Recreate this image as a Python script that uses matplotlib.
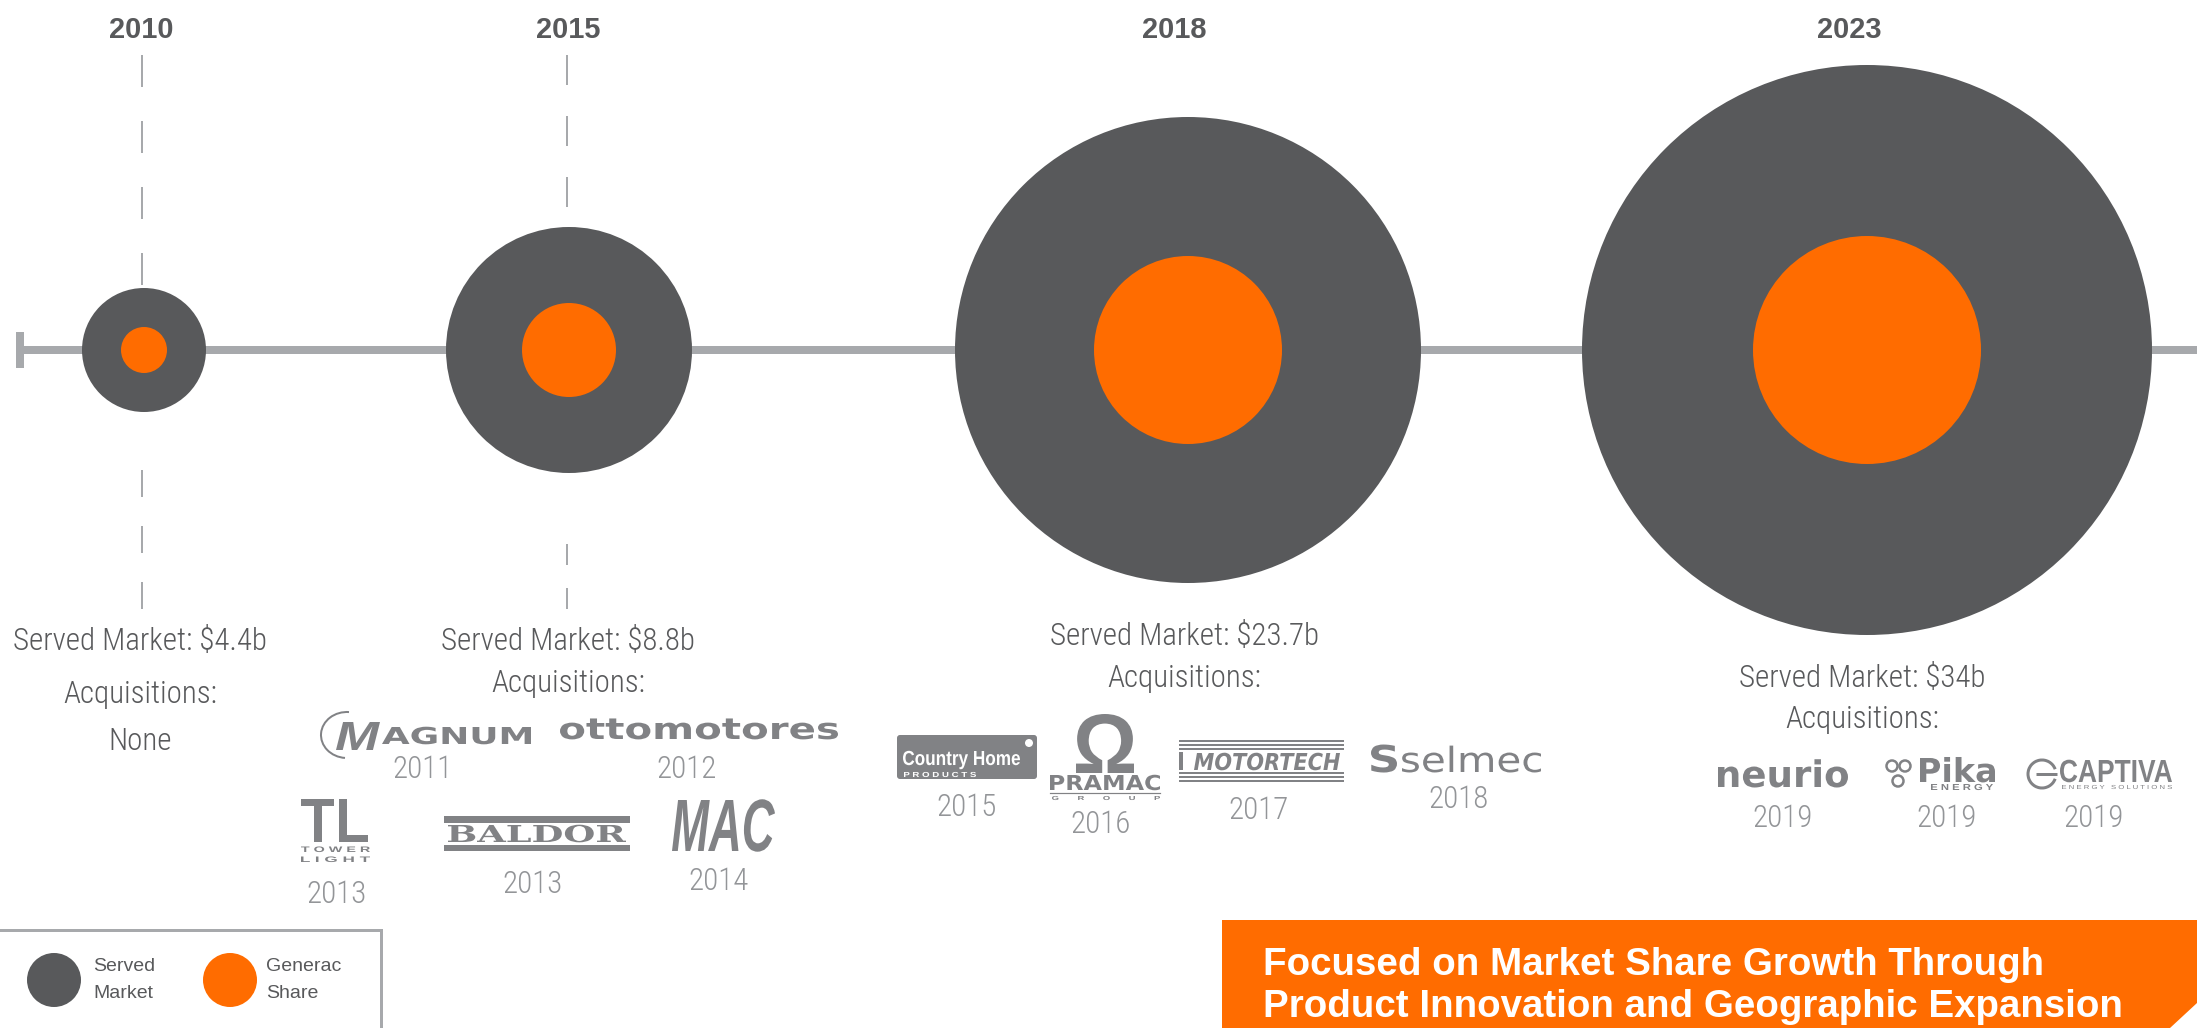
import matplotlib
matplotlib.use('Agg')
import matplotlib.pyplot as plt
from matplotlib import font_manager
from matplotlib.font_manager import FontProperties
from matplotlib.patches import Circle, Rectangle, Polygon, FancyBboxPatch, PathPatch, Arc
from matplotlib.textpath import TextPath
from matplotlib.transforms import Affine2D

# data
years = ['2010', '2015', '2018', '2023']
served_market = ['$4.4b', '$8.8b', '$23.7b', '$34b']
served_bubble = [62, 123, 233, 285]   # bubble radius
share_bubble = [23, 47, 94, 114]
acq_names = [[], ['Magnum', 'Ottomotores', 'Tower Light', 'Baldor', 'MAC'],
             ['Country Home', 'Pramac', 'Motortech', 'Selmec'],
             ['Neurio', 'Pika', 'Captiva']]
acq_years = [[], ['2011', '2012', '2013', '2013', '2014'],
             ['2015', '2016', '2017', '2018'],
             ['2019', '2019', '2019']]

DARK = '#58595b'
ORANGE = '#ff6c00'
LINE = '#a7a9ac'
LOGO = '#818285'
YEARGREY = '#939598'

names = {f.name for f in font_manager.fontManager.ttflist}
NARROW = 'Liberation Sans'
for cand in ['Roboto Condensed', 'Liberation Sans Narrow', 'Archivo Narrow', 'PT Sans Narrow',
             'IBM Plex Sans Condensed', 'Sofia Sans Condensed', 'Encode Sans Condensed']:
    if cand in names:
        NARROW = cand
        break
SANS = 'Liberation Sans'

plt.rcParams['lines.scale_dashes'] = False

W, H = 2197, 1028
fig = plt.figure(figsize=(W / 100, H / 100), dpi=100)
ax = fig.add_axes([0, 0, 1, 1])
ax.set_xlim(0, W)
ax.set_ylim(H, 0)
ax.axis('off')

PT = 0.72  # px -> pt at 100 dpi

# layout (pixels)
line_y = 350
bubble_x = [144, 569, 1188, 1867]
year_x = [141, 568, 1174, 1849]
text_x = [140, 568, 1184, 1862]
served_base = [650, 650, 645, 687]
acq_base = [703, 692, 687, 728]
body = dict(family=NARROW, weight='light', fontsize=31 * PT, color=DARK,
            ha='center', va='baseline')

# timeline
ax.plot([20, W], [line_y, line_y], color=LINE, lw=8 * PT, solid_capstyle='butt', zorder=1)
ax.plot([20, 20], [332, 368], color=LINE, lw=8 * PT, solid_capstyle='butt', zorder=1)

for i in range(len(years)):
    ax.add_patch(Circle((bubble_x[i], line_y), served_bubble[i], fc=DARK, ec='none', zorder=2))
    ax.add_patch(Circle((bubble_x[i], line_y), share_bubble[i], fc=ORANGE, ec='none', zorder=3))
    ax.text(year_x[i], 38, years[i], ha='center', va='baseline', family=SANS,
            weight='bold', fontsize=29 * PT, color=DARK)
    ax.text(text_x[i], served_base[i], 'Served Market: ' + served_market[i], **body)
    ax.text(text_x[i], acq_base[i], 'Acquisitions:', **body)
    if not acq_names[i]:
        ax.text(text_x[i], 750, 'None', **body)

# dashed leader lines (2010 and 2015 only)
dashes = [
    (142, 55, line_y - served_bubble[0], 32, 34),
    (567, 55, line_y - served_bubble[1], 30, 31),
    (142, 470, 609, 27, 29),
    (567, 544, 609, 21, 23),
]
for x, y0, y1, on, off in dashes:
    ax.plot([x, x], [y0, y1], color=LINE, lw=2 * PT, solid_capstyle='butt',
            dash_capstyle='butt', linestyle=(0, (on * PT, off * PT)), zorder=1)


def word(s, x0, x1, base, h, ref='H', family='DejaVu Sans', weight='bold',
         style='normal', color=LOGO, z=4):
    fp = FontProperties(family=family, weight=weight, style=style)
    tp = TextPath((0, 0), s, size=100, prop=fp)
    bb = tp.get_extents()
    rh = TextPath((0, 0), ref, size=100, prop=fp).get_extents()
    sx = (x1 - x0) / bb.width
    sy = h / rh.y1
    tr = Affine2D().translate(-bb.x0, 0).scale(sx, -sy).translate(x0, base) + ax.transData
    ax.add_patch(PathPatch(tp, transform=tr, fc=color, ec='none', lw=0, zorder=z))


def magnum():
    ax.add_patch(Arc((347, 735), 52, 46, theta1=95, theta2=275, color=LOGO, lw=2 * PT))
    word('M', 336, 380, 750, 28, family=SANS, style='italic')
    word('AGNUM', 382, 531, 744, 17)


def ottomotores():
    word('ottomotores', 560, 838, 739, 16, ref='x')


def tower_light():
    word('TL', 301, 368, 842, 43, family=SANS)
    word('T O W E R', 301, 370, 852, 5.5, family=SANS)
    word('L I G H T', 301, 370, 862, 5.5, family=SANS)


def baldor():
    ax.add_patch(Rectangle((444, 816), 186, 7, fc=LOGO, ec='none'))
    ax.add_patch(Rectangle((444, 845), 186, 6, fc=LOGO, ec='none'))
    word('BALDOR', 448, 626, 842, 17, family='DejaVu Serif')


def mac():
    word('MAC', 672, 775, 851, 51, family=SANS, style='italic')


def country_home():
    ax.add_patch(FancyBboxPatch((897, 735), 140, 44, boxstyle='round,pad=0,rounding_size=3',
                                fc=LOGO, ec='none', zorder=4))
    word('Country Home', 903, 1020, 765, 14, family=SANS, color='white', z=5)
    word('P R O D U C T S', 904, 976, 777, 5, family=SANS, color='white', z=5)
    ax.add_patch(Circle((1029, 743), 4, fc='white', ec='none', zorder=5))


def pramac():
    word('Ω', 1076, 1134, 773, 59, ref='Ω', family=SANS)
    word('PRAMAC', 1050, 1160, 790, 15)
    ax.plot([1050, 1160], [793, 793], color=LOGO, lw=1.2 * PT)
    word('G       R       O       U       P', 1052, 1160, 800, 4, family=SANS)


def motortech():
    for y in [741, 745, 749, 773, 777, 781]:
        ax.plot([1179, 1344], [y, y], color=LOGO, lw=2 * PT, solid_capstyle='butt')
    ax.add_patch(Rectangle((1179, 752), 4, 18, fc=LOGO, ec='none'))
    word('MOTORTECH', 1194, 1340, 770, 17, style='oblique')


def selmec():
    word('S', 1371, 1397, 772, 27)
    word('selmec', 1402, 1541, 772, 19, ref='x', weight='normal')


def neurio():
    word('neurio', 1718, 1848, 787, 20, ref='x')


def pika():
    for cx, cy in [(1892, 766), (1905, 766), (1898, 781)]:
        ax.add_patch(Circle((cx, cy), 5.5, fc='none', ec=LOGO, lw=2.5 * PT))
    word('Pika', 1920, 1995, 782, 24)
    word('E N E R G Y', 1931, 1993, 790, 6, family=SANS)


def captiva():
    ax.add_patch(Arc((2042, 774), 28, 28, theta1=20, theta2=340, color=LOGO, lw=3 * PT))
    ax.plot([2036, 2057], [774, 774], color=LOGO, lw=3 * PT, solid_capstyle='butt')
    word('CAPTIVA', 2060, 2172, 782, 22, family=SANS)
    word('E N E R G Y   S O L U T I O N S', 2062, 2172, 789, 4, family=SANS, weight='normal')


logo_fn = {'Magnum': magnum, 'Ottomotores': ottomotores, 'Tower Light': tower_light,
           'Baldor': baldor, 'MAC': mac, 'Country Home': country_home, 'Pramac': pramac,
           'Motortech': motortech, 'Selmec': selmec, 'Neurio': neurio, 'Pika': pika,
           'Captiva': captiva}
acq_year_pos = [[], [(422, 778), (687, 778), (337, 903), (533, 893), (718, 890)],
                [(967, 816), (1101, 833), (1258, 819), (1459, 808)],
                [(1783, 827), (1947, 827), (2094, 827)]]

for i in range(len(years)):
    for name, yr, (x, y) in zip(acq_names[i], acq_years[i], acq_year_pos[i]):
        logo_fn[name]()
        ax.text(x, y, yr, ha='center', va='baseline', family=NARROW, weight='light',
                fontsize=31 * PT, color=YEARGREY)

# legend
ax.add_patch(Rectangle((-10, 930), 391, 120, fc='none', ec=LINE, lw=3 * PT, zorder=1))
ax.add_patch(Circle((54, 980), 27, fc=DARK, ec='none'))
ax.add_patch(Circle((230, 980), 27, fc=ORANGE, ec='none'))
for x, l1, l2 in [(93, 'Served', 'Market'), (266, 'Generac', 'Share')]:
    ax.text(x, 971, l1, ha='left', va='baseline', family=SANS, fontsize=19.5 * PT, color=DARK)
    ax.text(x, 998, l2, ha='left', va='baseline', family=SANS, fontsize=19.5 * PT, color=DARK)

# banner
ax.add_patch(Polygon([(1222, 920), (W, 920), (W, 1003), (2170, H), (1222, H)],
                     closed=True, fc=ORANGE, ec='none', zorder=1))
ax.text(1263, 975, 'Focused on Market Share Growth Through', ha='left', va='baseline',
        family=SANS, weight='bold', fontsize=38.5 * PT, color='white', zorder=2)
ax.text(1263, 1017, 'Product Innovation and Geographic Expansion', ha='left', va='baseline',
        family=SANS, weight='bold', fontsize=38.5 * PT, color='white', zorder=2)

fig.savefig('out.png', dpi=100)
